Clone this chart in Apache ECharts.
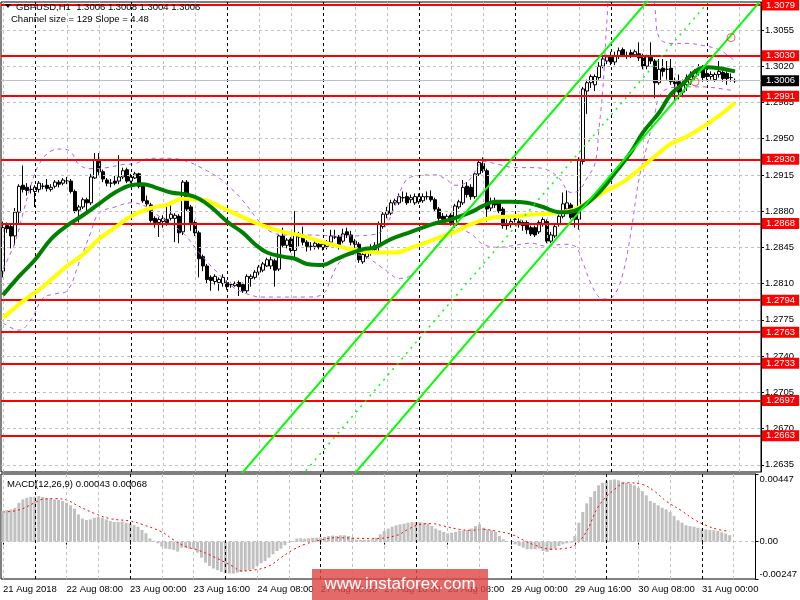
<!DOCTYPE html>
<html><head><meta charset="utf-8">
<script src="https://cdn.jsdelivr.net/npm/echarts@6/dist/echarts.min.js"></script>
<style>html,body{margin:0;padding:0;background:#fff}#c{width:800px;height:600px}</style>
</head><body><div id="c"></div>
<script>
// ---------- DATA ----------
// H1 candles: [open, close, low, high]
const bars = [
[1.2822,1.2864,1.2816,1.2870],[1.2866,1.2863,1.2859,1.2869],[1.2865,1.2856,1.2844,1.2867],[1.2856,1.2879,1.2847,1.2883],[1.2879,1.2904,1.2867,1.2906],
[1.2905,1.2901,1.2898,1.2924],[1.2903,1.2900,1.2895,1.2907],[1.2901,1.2901,1.2897,1.2905],[1.2899,1.2903,1.2884,1.2905],[1.2901,1.2907,1.2898,1.2909],
[1.2904,1.2904,1.2901,1.2907],[1.2905,1.2902,1.2899,1.2911],[1.2901,1.2903,1.2899,1.2906],[1.2904,1.2908,1.2902,1.2910],[1.2908,1.2906,1.2903,1.2910],
[1.2907,1.2910,1.2905,1.2912],[1.2909,1.2909,1.2906,1.2913],[1.2909,1.2899,1.2897,1.2911],[1.2899,1.2880,1.2878,1.2901],[1.2881,1.2884,1.2869,1.2886],
[1.2884,1.2891,1.2882,1.2893],[1.2891,1.2888,1.2877,1.2893],[1.2888,1.2913,1.2886,1.2916],[1.2912,1.2929,1.2911,1.2936],[1.2930,1.2918,1.2915,1.2936],
[1.2918,1.2911,1.2908,1.2920],[1.2910,1.2907,1.2904,1.2912],[1.2907,1.2907,1.2903,1.2911],[1.2909,1.2907,1.2905,1.2914],[1.2909,1.2913,1.2906,1.2934],
[1.2913,1.2919,1.2911,1.2922],[1.2920,1.2909,1.2907,1.2922],[1.2909,1.2913,1.2907,1.2916],[1.2912,1.2916,1.2911,1.2918],[1.2916,1.2904,1.2902,1.2917],
[1.2904,1.2890,1.2888,1.2906],[1.2890,1.2887,1.2885,1.2895],[1.2886,1.2871,1.2869,1.2888],[1.2873,1.2869,1.2864,1.2875],[1.2869,1.2872,1.2855,1.2874],
[1.2870,1.2873,1.2864,1.2876],[1.2872,1.2869,1.2866,1.2886],[1.2873,1.2877,1.2871,1.2887],[1.2873,1.2876,1.2850,1.2878],[1.2875,1.2859,1.2849,1.2877],
[1.2860,1.2908,1.2857,1.2910],[1.2908,1.2882,1.2880,1.2910],[1.2884,1.2869,1.2861,1.2886],[1.2869,1.2859,1.2856,1.2871],[1.2859,1.2834,1.2816,1.2861],
[1.2836,1.2827,1.2822,1.2838],[1.2827,1.2814,1.2810,1.2829],[1.2816,1.2813,1.2803,1.2818],[1.2812,1.2817,1.2809,1.2819],[1.2811,1.2814,1.2803,1.2816],
[1.2810,1.2816,1.2807,1.2819],[1.2811,1.2807,1.2804,1.2813],[1.2809,1.2809,1.2806,1.2811],[1.2808,1.2810,1.2807,1.2812],[1.2811,1.2807,1.2798,1.2813],
[1.2809,1.2803,1.2801,1.2811],[1.2803,1.2817,1.2801,1.2819],[1.2815,1.2817,1.2807,1.2819],[1.2816,1.2821,1.2814,1.2823],[1.2821,1.2826,1.2818,1.2828],
[1.2823,1.2829,1.2821,1.2831],[1.2827,1.2833,1.2826,1.2835],[1.2827,1.2833,1.2824,1.2836],[1.2832,1.2823,1.2807,1.2834],[1.2824,1.2856,1.2822,1.2858],
[1.2856,1.2847,1.2845,1.2864],[1.2847,1.2852,1.2844,1.2854],[1.2853,1.2842,1.2840,1.2855],[1.2842,1.2858,1.2835,1.2880],[1.2855,1.2858,1.2846,1.2860],
[1.2856,1.2850,1.2847,1.2865],[1.2850,1.2846,1.2841,1.2852],[1.2846,1.2846,1.2842,1.2850],[1.2846,1.2849,1.2843,1.2852],[1.2848,1.2845,1.2843,1.2851],
[1.2845,1.2848,1.2842,1.2850],[1.2846,1.2850,1.2843,1.2852],[1.2850,1.2856,1.2847,1.2862],[1.2855,1.2855,1.2853,1.2862],[1.2855,1.2846,1.2843,1.2857],
[1.2851,1.2858,1.2849,1.2863],[1.2860,1.2857,1.2854,1.2864],[1.2857,1.2850,1.2847,1.2861],[1.2851,1.2848,1.2843,1.2853],[1.2848,1.2833,1.2830,1.2850],
[1.2831,1.2838,1.2829,1.2840],[1.2836,1.2841,1.2834,1.2844],[1.2840,1.2845,1.2837,1.2848],[1.2843,1.2847,1.2840,1.2850],[1.2846,1.2867,1.2841,1.2870],
[1.2865,1.2877,1.2863,1.2879],[1.2877,1.2880,1.2873,1.2884],[1.2878,1.2888,1.2876,1.2891],[1.2888,1.2890,1.2886,1.2892],[1.2888,1.2894,1.2886,1.2897],
[1.2893,1.2893,1.2889,1.2899],[1.2894,1.2888,1.2886,1.2898],[1.2891,1.2893,1.2888,1.2896],[1.2888,1.2894,1.2886,1.2897],[1.2889,1.2894,1.2887,1.2897],
[1.2890,1.2894,1.2888,1.2897],[1.2894,1.2894,1.2891,1.2899],[1.2894,1.2891,1.2889,1.2900],[1.2891,1.2882,1.2880,1.2893],[1.2882,1.2873,1.2870,1.2884],
[1.2875,1.2872,1.2868,1.2878],[1.2872,1.2875,1.2870,1.2877],[1.2876,1.2869,1.2866,1.2878],[1.2866,1.2885,1.2864,1.2887],[1.2884,1.2889,1.2882,1.2891],
[1.2888,1.2903,1.2886,1.2910],[1.2904,1.2896,1.2893,1.2908],[1.2903,1.2894,1.2891,1.2906],[1.2894,1.2916,1.2892,1.2918],[1.2916,1.2927,1.2914,1.2929],
[1.2926,1.2919,1.2917,1.2932],[1.2919,1.2882,1.2870,1.2921],[1.2883,1.2889,1.2880,1.2893],[1.2889,1.2886,1.2883,1.2893],[1.2888,1.2880,1.2878,1.2890],
[1.2882,1.2866,1.2863,1.2884],[1.2868,1.2866,1.2862,1.2872],[1.2867,1.2870,1.2864,1.2873],[1.2872,1.2872,1.2869,1.2875],[1.2870,1.2867,1.2864,1.2873],
[1.2869,1.2866,1.2861,1.2871],[1.2869,1.2862,1.2858,1.2871],[1.2864,1.2858,1.2856,1.2866],[1.2864,1.2857,1.2855,1.2866],[1.2860,1.2869,1.2858,1.2871],
[1.2867,1.2872,1.2865,1.2874],[1.2870,1.2851,1.2849,1.2872],[1.2851,1.2857,1.2849,1.2860],[1.2856,1.2865,1.2854,1.2867],[1.2867,1.2875,1.2865,1.2880],
[1.2875,1.2887,1.2873,1.2898],[1.2882,1.2888,1.2880,1.2900],[1.2886,1.2874,1.2872,1.2888],[1.2879,1.2872,1.2864,1.2881],[1.2872,1.2930,1.2862,1.2932],
[1.2928,1.2998,1.2925,1.3000],[1.2996,1.3004,1.2974,1.3007],[1.3004,1.3010,1.2999,1.3012],[1.3002,1.3010,1.2996,1.3012],[1.3009,1.3020,1.3007,1.3024],
[1.3020,1.3027,1.3018,1.3030],[1.3025,1.3029,1.3022,1.3031],[1.3030,1.3024,1.3021,1.3034],[1.3024,1.3030,1.3021,1.3034],[1.3030,1.3035,1.3027,1.3038],
[1.3036,1.3030,1.3029,1.3038],[1.3030,1.3030,1.3027,1.3034],[1.3033,1.3030,1.3028,1.3036],[1.3031,1.3034,1.3029,1.3036],[1.3032,1.3028,1.3025,1.3043],
[1.3030,1.3020,1.3017,1.3032],[1.3020,1.3029,1.3017,1.3031],[1.3029,1.3025,1.3022,1.3043],[1.3025,1.3004,1.2989,1.3027],[1.3004,1.3017,1.3002,1.3027],
[1.3018,1.3015,1.3010,1.3027],[1.3017,1.3017,1.3007,1.3025],[1.3018,1.3005,1.3002,1.3027],[1.3005,1.3003,1.2985,1.3009],[1.3005,1.2995,1.2988,1.3012],
[1.2995,1.3002,1.2990,1.3007],[1.3002,1.3009,1.2996,1.3012],[1.3007,1.3011,1.3002,1.3015],[1.3010,1.3014,1.3007,1.3017],[1.3014,1.3018,1.3011,1.3022],
[1.3018,1.3009,1.3005,1.3021],[1.3013,1.3010,1.3007,1.3017],[1.3010,1.3012,1.3007,1.3015],[1.3007,1.3012,1.3005,1.3014],[1.3012,1.3015,1.3009,1.3025],
[1.3014,1.3008,1.3005,1.3017],[1.3013,1.3008,1.3002,1.3015],[1.3009,1.3009,1.3005,1.3013],[1.3006,1.3006,1.3004,1.3008]
];
// green MA (bar index, price)
const maGreen = [[0,1.2799],[4,1.2817],[8,1.2833],[12,1.2853],[16,1.2866],[20,1.2876],[24,1.2887],[28,1.2898],[32,1.2905],[35,1.2906],[38,1.2903],[42,1.2898],[46,1.2896],[49,1.2892],[52,1.2884],[56,1.2870],[60,1.2859],[63,1.2848],[66,1.2840],[70,1.2836],[73,1.2834],[76,1.2829],[80,1.2828],[83,1.2833],[86,1.2838],[90,1.2843],[93,1.2845],[97,1.2853],[102,1.2860],[107,1.2867],[112,1.2872],[117,1.2879],[120,1.2885],[123,1.2889],[127,1.2889],[131,1.2888],[135,1.2884],[139,1.2879],[141,1.2879],[144,1.2882],[149,1.2898],[153,1.2917],[157,1.2937],[160,1.2956],[164,1.2975],[167,1.2993],[170,1.3003],[173,1.3015],[176,1.3019],[179,1.3018],[183,1.3015]];
// yellow MA
const maYellow = [[0,1.2777],[6,1.2796],[10,1.2807],[16,1.2827],[20,1.2838],[24,1.2853],[28,1.2864],[32,1.2875],[37,1.2883],[41,1.2886],[45,1.2892],[50,1.2891],[55,1.2883],[60,1.2874],[65,1.2866],[70,1.2860],[75,1.2856],[80,1.2850],[85,1.2845],[90,1.2841],[95,1.2840],[98,1.2840],[103,1.2846],[108,1.2853],[113,1.2860],[118,1.2869],[123,1.2874],[128,1.2875],[133,1.2877],[138,1.2878],[143,1.2882],[146,1.2888],[150,1.2898],[155,1.2908],[159,1.2920],[163,1.2933],[167,1.2945],[171,1.2952],[176,1.2964],[180,1.2975],[183,1.2985]];
// band lines (upper / lower)
const bandUpper = [[0,1.2824],[3,1.2850],[5,1.2878],[7,1.2905],[9,1.2925],[12,1.2938],[15,1.2940],[17,1.2937],[19,1.2925],[22,1.2921],[26,1.2922],[30,1.2925],[33,1.2926],[37,1.2931],[42,1.2931],[46,1.2928],[49,1.2923],[54,1.2912],[57,1.2902],[60,1.2890],[63,1.2875],[65,1.2866],[67,1.2860],[70,1.2857],[75,1.2857],[85,1.2856],[92,1.2857],[95,1.2862],[98,1.2885],[100,1.2905],[102,1.2913],[108,1.2915],[111,1.2910],[113,1.2905],[116,1.2908],[118,1.2918],[120,1.2928],[124,1.2925],[128,1.2922],[132,1.2922],[136,1.2920],[139,1.2912],[142,1.2898],[144,1.2900],[146,1.2912],[148,1.2926],[149,1.2960],[150,1.3000],[151,1.3065],[152,1.3100],[158,1.3120],[162,1.3100],[163,1.3075],[164,1.3048],[167,1.3042],[171,1.3042],[175,1.3040],[179,1.3036],[181,1.3031],[183,1.3025]];
const bandLower = [[0,1.2772],[4,1.2765],[7,1.2775],[10,1.2796],[13,1.2800],[16,1.2803],[19,1.2830],[22,1.2860],[24,1.2878],[28,1.2884],[32,1.2888],[36,1.2884],[39,1.2875],[42,1.2868],[44,1.2862],[46,1.2855],[49,1.2840],[53,1.2823],[57,1.2808],[61,1.2800],[65,1.2797],[70,1.2797],[76,1.2797],[80,1.2800],[82,1.2815],[84,1.2830],[87,1.2838],[90,1.2837],[92,1.2833],[96,1.2822],[99,1.2815],[102,1.2818],[105,1.2830],[108,1.2845],[111,1.2858],[114,1.2862],[117,1.2858],[120,1.2848],[124,1.2845],[128,1.2847],[132,1.2849],[136,1.2846],[140,1.2848],[143,1.2846],[145,1.2830],[147,1.2810],[149,1.2797],[151,1.2795],[153,1.2800],[155,1.2820],[157,1.2860],[159,1.2911],[161,1.2943],[163,1.2975],[164,1.2990],[166,1.2998],[170,1.3000],[175,1.3000],[180,1.2998],[183,1.2996]];
// MACD histogram (one per bar) and signal line
const macdHist = [
0.00202,0.00209,0.00213,0.00224,0.00257,0.00279,0.0029,0.00295,0.00297,0.00301,
0.00295,0.00288,0.00284,0.00279,0.00275,0.00268,0.00257,0.0024,0.00218,0.0018,
0.00152,0.00143,0.00147,0.00158,0.00163,0.00158,0.00147,0.00136,0.0013,0.0013,
0.00132,0.00125,0.00121,0.0011,0.00099,0.00077,0.00055,0.00022,0.00004,-0.00011,
-0.00033,-0.00046,-0.0005,-0.00055,-0.00066,-0.0004,-0.0004,-0.00046,-0.0005,-0.00073,
-0.00106,-0.00139,-0.00161,-0.00178,-0.00189,-0.002,-0.00209,-0.00211,-0.00211,-0.00205,
-0.002,-0.00194,-0.00189,-0.00183,-0.00161,-0.00143,-0.00128,-0.00106,-0.00084,-0.00062,
-0.00046,-0.00024,-0.00007,0.00004,0.0002,0.00022,0.0002,0.00022,0.00026,0.00026,
0.00026,0.00031,0.00037,0.0004,0.00037,0.00042,0.00042,0.00037,0.00026,0.00011,
0.00011,0.00011,0.00011,0.00015,0.00026,0.00048,0.0007,0.00086,0.00099,0.00108,
0.00114,0.00119,0.00125,0.0013,0.0013,0.0013,0.00125,0.00119,0.00103,0.00086,
0.00075,0.00064,0.00055,0.00059,0.00064,0.00073,0.00075,0.00077,0.00086,0.00103,
0.00114,0.00092,0.00081,0.00075,0.00064,0.00037,0.00015,0.00004,-0.00002,-0.00018,
-0.00029,-0.0004,-0.0005,-0.0005,-0.0005,-0.00046,-0.00062,-0.00068,-0.00057,-0.00046,
-0.00029,-0.00018,-0.00011,-0.00007,0.00037,0.00125,0.00196,0.00253,0.00295,0.00334,
0.00372,0.00389,0.004,0.00407,0.00411,0.00405,0.00396,0.00389,0.00383,0.00372,
0.00356,0.00334,0.00306,0.00268,0.00257,0.0024,0.00224,0.00213,0.00196,0.00169,
0.00141,0.00125,0.00108,0.00103,0.00099,0.00092,0.00086,0.00081,0.00077,0.00075,
0.0007,0.00062,0.00053,0.00043
];
const macdSignal = [[0,0.00196],[4,0.00209],[8,0.00257],[10,0.0028],[13,0.00284],[16,0.00275],[19,0.00235],[23,0.00187],[27,0.00152],[32,0.00136],[35,0.00114],[40,0.00064],[43,0.00011],[46,-0.00033],[49,-0.00055],[53,-0.00099],[58,-0.00165],[60,-0.00194],[63,-0.00189],[67,-0.00161],[70,-0.00106],[73,-0.00055],[76,-0.00018],[80,0.00011],[84,0.00026],[89,0.00022],[93,0.0002],[99,0.0004],[102,0.00081],[105,0.00114],[108,0.00119],[111,0.00103],[115,0.00081],[118,0.00075],[121,0.00081],[124,0.0007],[128,0.00048],[131,0.00011],[134,-0.00024],[138,-0.0005],[141,-0.00046],[144,-0.00024],[147,0.0007],[150,0.00235],[154,0.00345],[157,0.00389],[161,0.00378],[164,0.00334],[167,0.00268],[171,0.00202],[174,0.00147],[177,0.00108],[180,0.00081],[183,0.00068]];
// horizontal red levels
const levels = [1.3079,1.3030,1.2991,1.2930,1.2868,1.2794,1.2763,1.2733,1.2697,1.2663];
const lastPrice = 1.3006;
// equidistant channel: [bar, price] anchor pairs
const channelUpper = [[55,1.26055],[175,1.31455]];
const channelMid = [[70,1.26036],[189,1.31391]];
const channelLower = [[85,1.26134],[189,1.30814]];
const alertMarks = [[182,1.30476],[173,1.30049]];
// axis ticks
const priceTicks = [1.2635,1.2670,1.2705,1.2740,1.2775,1.2810,1.2845,1.2880,1.2915,1.2950,1.2985,1.3020,1.3055];
const macdTicks = [-0.00247,0,0.00447];
const timeLabels = [[0,'21 Aug 2018'],[16,'22 Aug 08:00'],[32,'23 Aug 00:00'],[48,'23 Aug 16:00'],[64,'24 Aug 08:00'],[80,'27 Aug 00:00'],[96,'27 Aug 16:00'],[112,'28 Aug 08:00'],[128,'29 Aug 00:00'],[144,'29 Aug 16:00'],[160,'30 Aug 08:00'],[176,'31 Aug 00:00']];
const dayStarts = [8,32,56,80,104,128,152,176];

// ---------- CHART ----------
const N = 190; // bars + right shift
const cats = Array.from({length: N}, (_, i) => String(i));
const labelMap = {}; timeLabels.forEach(([i, t]) => { labelMap[i] = t; });
const FONT = 'Liberation Sans';
const FS = 9.5;

const vLines = [];
for (let i = 0; i < N; i += 8) {
  vLines.push({xAxis: i, lineStyle: {color: dayStarts.includes(i) ? '#000' : '#C0C0C0', type: [3, 3], width: 1}});
}
const hLines = priceTicks.map(v => ({yAxis: v}));

const chart = echarts.init(document.getElementById('c'));
chart.setOption({
  animation: false,
  backgroundColor: '#fff',
  textStyle: {fontFamily: FONT},
  grid: [
    {left: 1, top: 2, width: 760, height: 470, show: true, borderColor: '#000', borderWidth: 1, backgroundColor: 'transparent'},
    {left: 1, top: 474, width: 760, height: 105, show: true, borderColor: '#000', borderWidth: 1, backgroundColor: 'transparent'}
  ],
  xAxis: [
    {type: 'category', gridIndex: 0, data: cats, boundaryGap: true, axisLine: {show: false}, axisTick: {show: false}, axisLabel: {show: false}, splitLine: {show: false}},
    {type: 'category', gridIndex: 1, data: cats, boundaryGap: true, axisLine: {show: false},
     axisTick: {show: true, alignWithLabel: true, length: 3, interval: (i) => labelMap[i] !== undefined, lineStyle: {color: '#000'}},
     axisLabel: {show: true, interval: (i) => labelMap[i] !== undefined, formatter: (v, i) => labelMap[i] || '', align: 'left', margin: 5, color: '#000', fontSize: FS, fontFamily: FONT},
     splitLine: {show: false}}
  ],
  yAxis: [
    {type: 'value', gridIndex: 0, position: 'right', min: 1.2628, max: 1.3082, scale: true,
     axisLine: {show: true, lineStyle: {color: '#000'}},
     axisTick: {show: true, length: 3, customValues: priceTicks, lineStyle: {color: '#000'}},
     axisLabel: {show: true, customValues: priceTicks, formatter: v => v.toFixed(4), margin: 4, color: '#000', fontSize: FS, fontFamily: FONT},
     splitLine: {show: false}},
    {type: 'value', gridIndex: 1, position: 'right', min: -0.00247, max: 0.00447,
     axisLine: {show: true, lineStyle: {color: '#000'}},
     axisTick: {show: true, length: 3, customValues: macdTicks, lineStyle: {color: '#000'}},
     axisLabel: {show: true, customValues: macdTicks, formatter: v => (v === 0 ? '0.00' : v.toFixed(5)), margin: 4, color: '#000', fontSize: FS, fontFamily: FONT,
       verticalAlignMaxLabel: 'top', verticalAlignMinLabel: 'bottom'},
     splitLine: {show: false}}
  ],
  series: [
    {name: 'gridMain', type: 'line', xAxisIndex: 0, yAxisIndex: 0, data: [], z: 1, silent: true,
     markLine: {silent: true, precision: 6, symbol: ['none', 'none'], label: {show: false}, lineStyle: {color: '#C0C0C0', type: [3, 3], width: 1}, data: hLines.concat(vLines)}},
    {name: 'bid', type: 'line', xAxisIndex: 0, yAxisIndex: 0, data: [], z: 2, silent: true,
     markLine: {silent: true, precision: 6, symbol: ['none', 'none'], lineStyle: {color: '#C0C0C0', type: 'solid', width: 1},
       label: {show: true, position: 'end', distance: 1, formatter: lastPrice.toFixed(4), color: '#fff', backgroundColor: '#000', padding: [1, 4, 0, 4], fontSize: FS, fontFamily: FONT},
       data: [{yAxis: lastPrice}]}},
    {name: 'GBPUSD', type: 'candlestick', xAxisIndex: 0, yAxisIndex: 0, data: bars, z: 3, barWidth: 3,
     itemStyle: {color: '#fff', color0: '#000', borderColor: '#000', borderColor0: '#000', borderWidth: 1}},
    {name: 'bandUp', type: 'line', xAxisIndex: 0, yAxisIndex: 0, data: bandUpper, z: 4, showSymbol: false, smooth: 0.4, clip: true,
     lineStyle: {color: '#B85CE6', width: 1, type: [4, 4]}},
    {name: 'bandLo', type: 'line', xAxisIndex: 0, yAxisIndex: 0, data: bandLower, z: 4, showSymbol: false, smooth: 0.4, clip: true,
     lineStyle: {color: '#B85CE6', width: 1, type: [4, 4]}},
    {name: 'maYellow', type: 'line', xAxisIndex: 0, yAxisIndex: 0, data: maYellow, z: 5, showSymbol: false, smooth: 0.4,
     lineStyle: {color: '#FFFF00', width: 4}},
    {name: 'maGreen', type: 'line', xAxisIndex: 0, yAxisIndex: 0, data: maGreen, z: 5, showSymbol: false, smooth: 0.4,
     lineStyle: {color: '#008000', width: 4}},
    {name: 'chUp', type: 'line', xAxisIndex: 0, yAxisIndex: 0, data: channelUpper, z: 6, showSymbol: false, clip: true,
     lineStyle: {color: '#00FF00', width: 2}},
    {name: 'chMid', type: 'line', xAxisIndex: 0, yAxisIndex: 0, data: channelMid, z: 6, showSymbol: false, clip: true,
     lineStyle: {color: '#00FF00', width: 1.5, type: [2, 5]}},
    {name: 'chLo', type: 'line', xAxisIndex: 0, yAxisIndex: 0, data: channelLower, z: 6, showSymbol: false, clip: true,
     lineStyle: {color: '#00FF00', width: 2}},
    {name: 'levels', type: 'line', xAxisIndex: 0, yAxisIndex: 0, data: [], z: 7, silent: true,
     markLine: {silent: true, precision: 6, symbol: ['none', 'none'], lineStyle: {color: '#FF0000', type: 'solid', width: 2},
       label: {show: true, position: 'end', distance: 1, color: '#fff', backgroundColor: '#FF0000', padding: [1, 4, 0, 4], fontSize: FS, fontFamily: FONT},
       data: levels.map(v => ({yAxis: v, label: {formatter: v.toFixed(4)}}))}},
    {name: 'alerts', type: 'scatter', xAxisIndex: 0, yAxisIndex: 0, data: alertMarks, z: 8, symbol: 'circle', symbolSize: 8,
     itemStyle: {color: 'transparent', borderColor: '#FF3030', borderWidth: 1}},
    {name: 'gridMacd', type: 'line', xAxisIndex: 1, yAxisIndex: 1, data: [], z: 1, silent: true,
     markLine: {silent: true, precision: 8, symbol: ['none', 'none'], label: {show: false}, lineStyle: {color: '#C0C0C0', type: [3, 3], width: 1}, data: [{yAxis: 0}].concat(vLines)}},
    {name: 'MACD', type: 'bar', xAxisIndex: 1, yAxisIndex: 1, data: macdHist, z: 3, barWidth: 3, itemStyle: {color: '#C0C0C0'}},
    {name: 'Signal', type: 'line', xAxisIndex: 1, yAxisIndex: 1, data: macdSignal, z: 4, showSymbol: false, smooth: 0.4,
     lineStyle: {color: '#FF0000', width: 1, type: [2, 3]}}
  ],
  graphic: [
    {type: 'polygon', shape: {points: [[5, 4], [11, 4], [8, 8]]}, style: {fill: '#000'}, z: 20},
    {type: 'text', left: 16, top: 2, z: 20, style: {text: 'GBPUSD,H1  1.3006 1.3008 1.3004 1.3006', fill: '#000', font: FS + 'px ' + FONT}},
    {type: 'text', left: 11, top: 14, z: 20, style: {text: 'Channel size = 129 Slope = 4.48', fill: '#000', font: FS + 'px ' + FONT}},
    {type: 'text', left: 7, top: 479, z: 20, style: {text: 'MACD(12,26,9) 0.00043 0.00068', fill: '#000', font: FS + 'px ' + FONT}},
    {type: 'rect', shape: {x: 312, y: 569, width: 176, height: 31}, style: {fill: 'rgba(222,72,72,0.82)'}, z: 30},
    {type: 'text', x: 400, y: 584, z: 31, style: {text: 'www.instaforex.com', fill: '#fff', font: '17px ' + FONT, textAlign: 'center', textVerticalAlign: 'middle'}}
  ]
});
</script>
</body></html>
